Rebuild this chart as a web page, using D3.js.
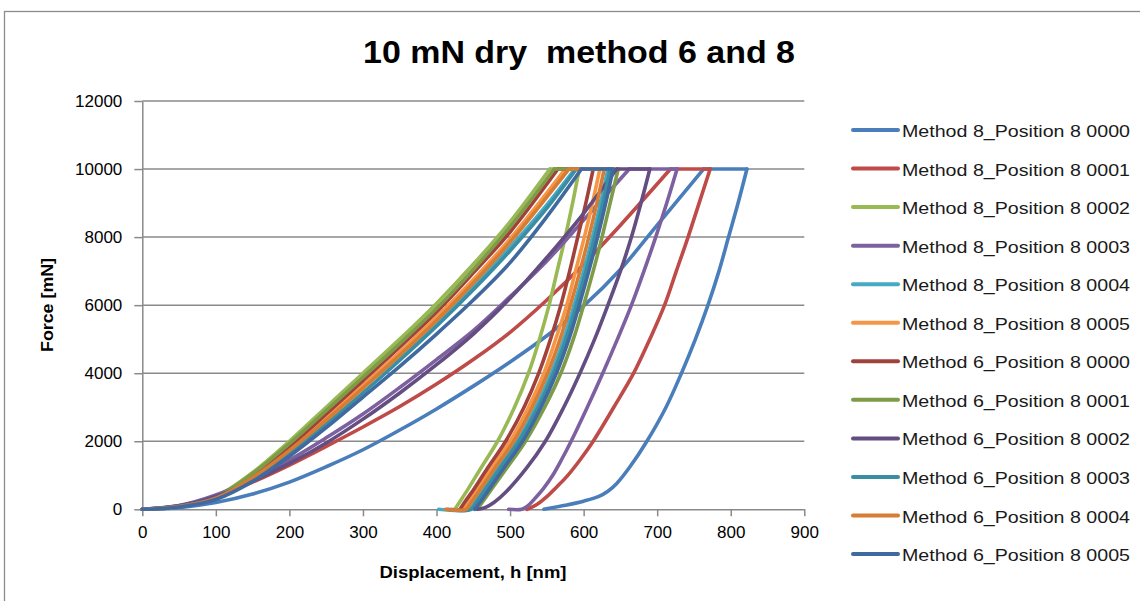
<!DOCTYPE html>
<html>
<head>
<meta charset="utf-8">
<script src="https://cdn.jsdelivr.net/npm/d3@7"></script>
<style>
  body { margin: 0; background: #fff; }
  svg { display: block; font-family: "Liberation Sans", Arial, sans-serif; }
</style>
</head>
<body>
<svg id="chart" width="1140" height="601"></svg>
<script>
// axis ticks
var xTicks = [0, 100, 200, 300, 400, 500, 600, 700, 800, 900];
var yTicks = [0, 2000, 4000, 6000, 8000, 10000, 12000];

var seriesNames = [
  "Method 8_Position 8 0000", "Method 8_Position 8 0001", "Method 8_Position 8 0002",
  "Method 8_Position 8 0003", "Method 8_Position 8 0004", "Method 8_Position 8 0005",
  "Method 6_Position 8 0000", "Method 6_Position 8 0001", "Method 6_Position 8 0002",
  "Method 6_Position 8 0003", "Method 6_Position 8 0004", "Method 6_Position 8 0005"
];
var seriesColors = [
  "#4A7EBB", "#BE4B48", "#98B954", "#7D60A0", "#46AAC5", "#F69544",
  "#A0413C", "#7E9B47", "#634D81", "#3A8EA3", "#D77C35", "#40699F"
];

// [displacement nm, force]: loading branch and unloading branch
var m8_0000_load = [[0,0],[50,50],[100,200],[150,450],[200,800],[250,1250],[300,1750],[350,2330],[400,2950],[450,3620],[500,4330],[550,5100],[600,5980],[650,7050],[700,8350],[763,10000]];
var m8_0000_unload = [[546,0],[575,120],[600,240],[620,370],[633,530],[645,760],[663,1250],[686,2000],[712,3000],[733,4000],[752,5000],[769,6000],[784,7000],[797,8000],[810,9000],[822,10000]];

var m8_0001_load = [[0,0],[50,100],[100,380],[150,800],[200,1300],[250,1850],[300,2420],[350,3020],[400,3680],[450,4400],[500,5200],[550,6150],[600,7200],[650,8350],[718,10000]];
var m8_0001_unload = [[523,0],[537,150],[550,370],[563,650],[577,960],[595,1450],[613,2000],[641,3000],[668,4000],[690,5000],[710,6000],[726,7000],[742,8000],[757,9000],[772,10000]];

var m8_0002_load = [[0,0],[50,90],[100,370],[150,1080],[200,2000],[250,3000],[300,4000],[350,5000],[400,6050],[450,7200],[500,8450],[554,10000]];
var m8_0002_unload = [[425,0],[431,200],[443,600],[460,1200],[483,2000],[506,3000],[525,4000],[540,5000],[553,6000],[564,7000],[575,8000],[585,9000],[594,10000]];

var m8_0003_load = [[0,0],[50,110],[100,420],[150,900],[200,1450],[250,2100],[300,2800],[350,3580],[400,4400],[450,5250],[500,6250],[550,7300],[600,8500],[662,10000]];
var m8_0003_unload = [[498,0],[516,0],[524,100],[533,300],[545,600],[558,1000],[571,1500],[583,2000],[605,3000],[626,4000],[646,5000],[665,6000],[682,7000],[698,8000],[713,9000],[727,10000]];

var m8_0004_load = [[0,0],[50,95],[100,360],[150,1000],[200,1800],[250,2680],[300,3580],[350,4500],[400,5480],[450,6550],[500,7700],[550,8950],[588,10000]];
var m8_0004_unload = [[403,0],[445,0],[452,200],[465,600],[484,1200],[510,2000],[535,3000],[556,4000],[573,5000],[587,6000],[600,7000],[612,8000],[623,9000],[633,10000]];

var m8_0005_load = [[0,0],[50,85],[100,340],[150,960],[200,1780],[250,2700],[300,3650],[350,4620],[400,5650],[450,6750],[500,7950],[575,10000]];
var m8_0005_unload = [[420,0],[436,0],[443,200],[455,600],[474,1200],[500,2000],[525,3000],[546,4000],[562,5000],[577,6000],[589,7000],[601,8000],[612,9000],[622,10000]];

var m6_0000_load = [[0,0],[50,90],[100,350],[150,1000],[200,1850],[250,2800],[300,3780],[350,4770],[400,5800],[450,6950],[500,8150],[565,10000]];
var m6_0000_unload = [[432,0],[438,200],[451,600],[469,1200],[494,2000],[519,3000],[539,4000],[555,5000],[569,6000],[581,7000],[592,8000],[603,9000],[613,10000]];

var m6_0001_load = [[0,0],[50,90],[100,360],[150,1050],[200,1930],[250,2900],[300,3880],[350,4870],[400,5900],[450,7050],[500,8300],[560,10000]];
var m6_0001_unload = [[455,0],[462,200],[475,600],[495,1200],[521,2000],[547,3000],[569,4000],[586,5000],[600,6000],[613,7000],[625,8000],[636,9000],[647,10000]];

var m6_0002_load = [[0,0],[50,100],[100,380],[150,830],[200,1350],[250,1950],[300,2650],[350,3420],[400,4250],[450,5150],[500,6200],[550,7400],[600,8700],[645,10000]];
var m6_0002_unload = [[456,0],[466,50],[478,200],[494,500],[522,1200],[548,2000],[573,3000],[595,4000],[615,5000],[633,6000],[650,7000],[665,8000],[678,9000],[690,10000]];

var m6_0003_load = [[0,0],[50,80],[100,320],[150,890],[200,1650],[250,2500],[300,3420],[350,4380],[400,5380],[450,6450],[500,7600],[550,8850],[590,10000]];
var m6_0003_unload = [[415,0],[447,0],[454,200],[467,600],[486,1200],[512,2000],[538,3000],[559,4000],[576,5000],[590,6000],[603,7000],[615,8000],[626,9000],[636,10000]];

var m6_0004_load = [[0,0],[50,85],[100,330],[150,930],[200,1730],[250,2620],[300,3560],[350,4530],[400,5550],[450,6650],[500,7850],[580,10000]];
var m6_0004_unload = [[412,0],[440,0],[447,200],[460,600],[479,1200],[505,2000],[530,3000],[551,4000],[568,5000],[582,6000],[595,7000],[607,8000],[618,9000],[628,10000]];

var m6_0005_load = [[0,0],[50,70],[100,290],[150,820],[200,1560],[250,2400],[300,3300],[350,4200],[400,5150],[450,6150],[500,7250],[550,8600],[597,10000]];
var m6_0005_unload = [[452,0],[459,200],[472,600],[491,1200],[517,2000],[542,3000],[563,4000],[580,5000],[594,6000],[607,7000],[619,8000],[630,9000],[640,10000]];

var loads = [m8_0000_load, m8_0001_load, m8_0002_load, m8_0003_load, m8_0004_load, m8_0005_load,
             m6_0000_load, m6_0001_load, m6_0002_load, m6_0003_load, m6_0004_load, m6_0005_load];
var unloads = [m8_0000_unload, m8_0001_unload, m8_0002_unload, m8_0003_unload, m8_0004_unload, m8_0005_unload,
               m6_0000_unload, m6_0001_unload, m6_0002_unload, m6_0003_unload, m6_0004_unload, m6_0005_unload];

var series = seriesNames.map(function(n, i){
  return { name: n, color: seriesColors[i], load: loads[i], unload: unloads[i] };
});

var svg = d3.select("#chart");
var gridColor = "#8a8a8a";

// outer chart border
svg.append("rect")
  .attr("x", 4.5).attr("y", 11.5)
  .attr("width", 1200).attr("height", 700)
  .attr("fill", "none").attr("stroke", "#8c8c8c").attr("stroke-width", 1.3);

var x = d3.scaleLinear().domain([0, 900]).range([142.3, 804.3]);
var y = d3.scaleLinear().domain([0, 12000]).range([509.3, 101]);

// gridlines
svg.append("g").selectAll("line").data(yTicks.filter(function(d){ return d > 0; }))
  .enter().append("line")
  .attr("x1", x(0)).attr("x2", x(900))
  .attr("y1", function(d){ return y(d); }).attr("y2", function(d){ return y(d); })
  .attr("stroke", gridColor).attr("stroke-width", 1.5);

var xAxis = svg.append("g")
  .attr("transform", "translate(0," + y(0) + ")")
  .call(d3.axisBottom(x).tickValues(xTicks).tickSize(7).tickSizeOuter(0).tickPadding(10).tickFormat(d3.format("d")));
var yAxis = svg.append("g")
  .attr("transform", "translate(" + x(0) + ",0)")
  .call(d3.axisLeft(y).tickValues(yTicks).tickSize(8).tickSizeOuter(0).tickPadding(12).tickFormat(d3.format("d")));

[xAxis, yAxis].forEach(function(a){
  a.select(".domain").attr("stroke", gridColor).attr("stroke-width", 1.5);
  a.selectAll(".tick line").attr("stroke", gridColor).attr("stroke-width", 1.5);
  a.selectAll(".tick text").attr("fill", "#000").style("font-size", "17px")
    .style("font-family", "'Liberation Sans', Arial, sans-serif");
});

// curves
var line = d3.line()
  .x(function(d){ return x(d[0]); })
  .y(function(d){ return y(d[1]); })
  .curve(d3.curveCatmullRom.alpha(0.5));
var straight = d3.line()
  .x(function(d){ return x(d[0]); })
  .y(function(d){ return y(d[1]); });

var plot = svg.append("g");
series.forEach(function(s){
  var g = plot.append("g")
    .attr("fill", "none").attr("stroke", s.color)
    .attr("stroke-width", 3.6).attr("stroke-linecap", "round").attr("stroke-linejoin", "round");
  g.append("path").attr("d", line(s.load));
  var a = s.load[s.load.length - 1], b = s.unload[s.unload.length - 1];
  g.append("path").attr("d", straight([a, b]));
  g.append("path").attr("d", line(s.unload));
});

// title
svg.append("text")
  .attr("x", 579).attr("y", 63)
  .attr("text-anchor", "middle")
  .attr("textLength", 432).attr("lengthAdjust", "spacingAndGlyphs")
  .style("font-size", "32px").style("font-weight", "bold").style("white-space", "pre")
  .text("10 mN dry  method 6 and 8");

// axis titles
svg.append("text")
  .attr("x", 473).attr("y", 578)
  .attr("text-anchor", "middle")
  .attr("textLength", 187).attr("lengthAdjust", "spacingAndGlyphs")
  .style("font-size", "16px").style("font-weight", "bold")
  .text("Displacement, h [nm]");

svg.append("text")
  .attr("transform", "translate(53,305) rotate(-90)")
  .attr("text-anchor", "middle")
  .attr("textLength", 94).attr("lengthAdjust", "spacingAndGlyphs")
  .style("font-size", "16px").style("font-weight", "bold")
  .text("Force [mN]");

// legend
var legend = svg.append("g").selectAll("g").data(series).enter().append("g")
  .attr("transform", function(d, i){ return "translate(0," + (130 + i * 38.55) + ")"; });
legend.append("line")
  .attr("x1", 853).attr("x2", 898).attr("y1", 0).attr("y2", 0)
  .attr("stroke", function(d){ return d.color; })
  .attr("stroke-width", 4).attr("stroke-linecap", "round");
legend.append("text")
  .attr("x", 902).attr("y", 7)
  .attr("textLength", 228).attr("lengthAdjust", "spacingAndGlyphs")
  .style("font-size", "17px").attr("fill", "#1a1a1a")
  .text(function(d){ return d.name; });
</script>
</body>
</html>
